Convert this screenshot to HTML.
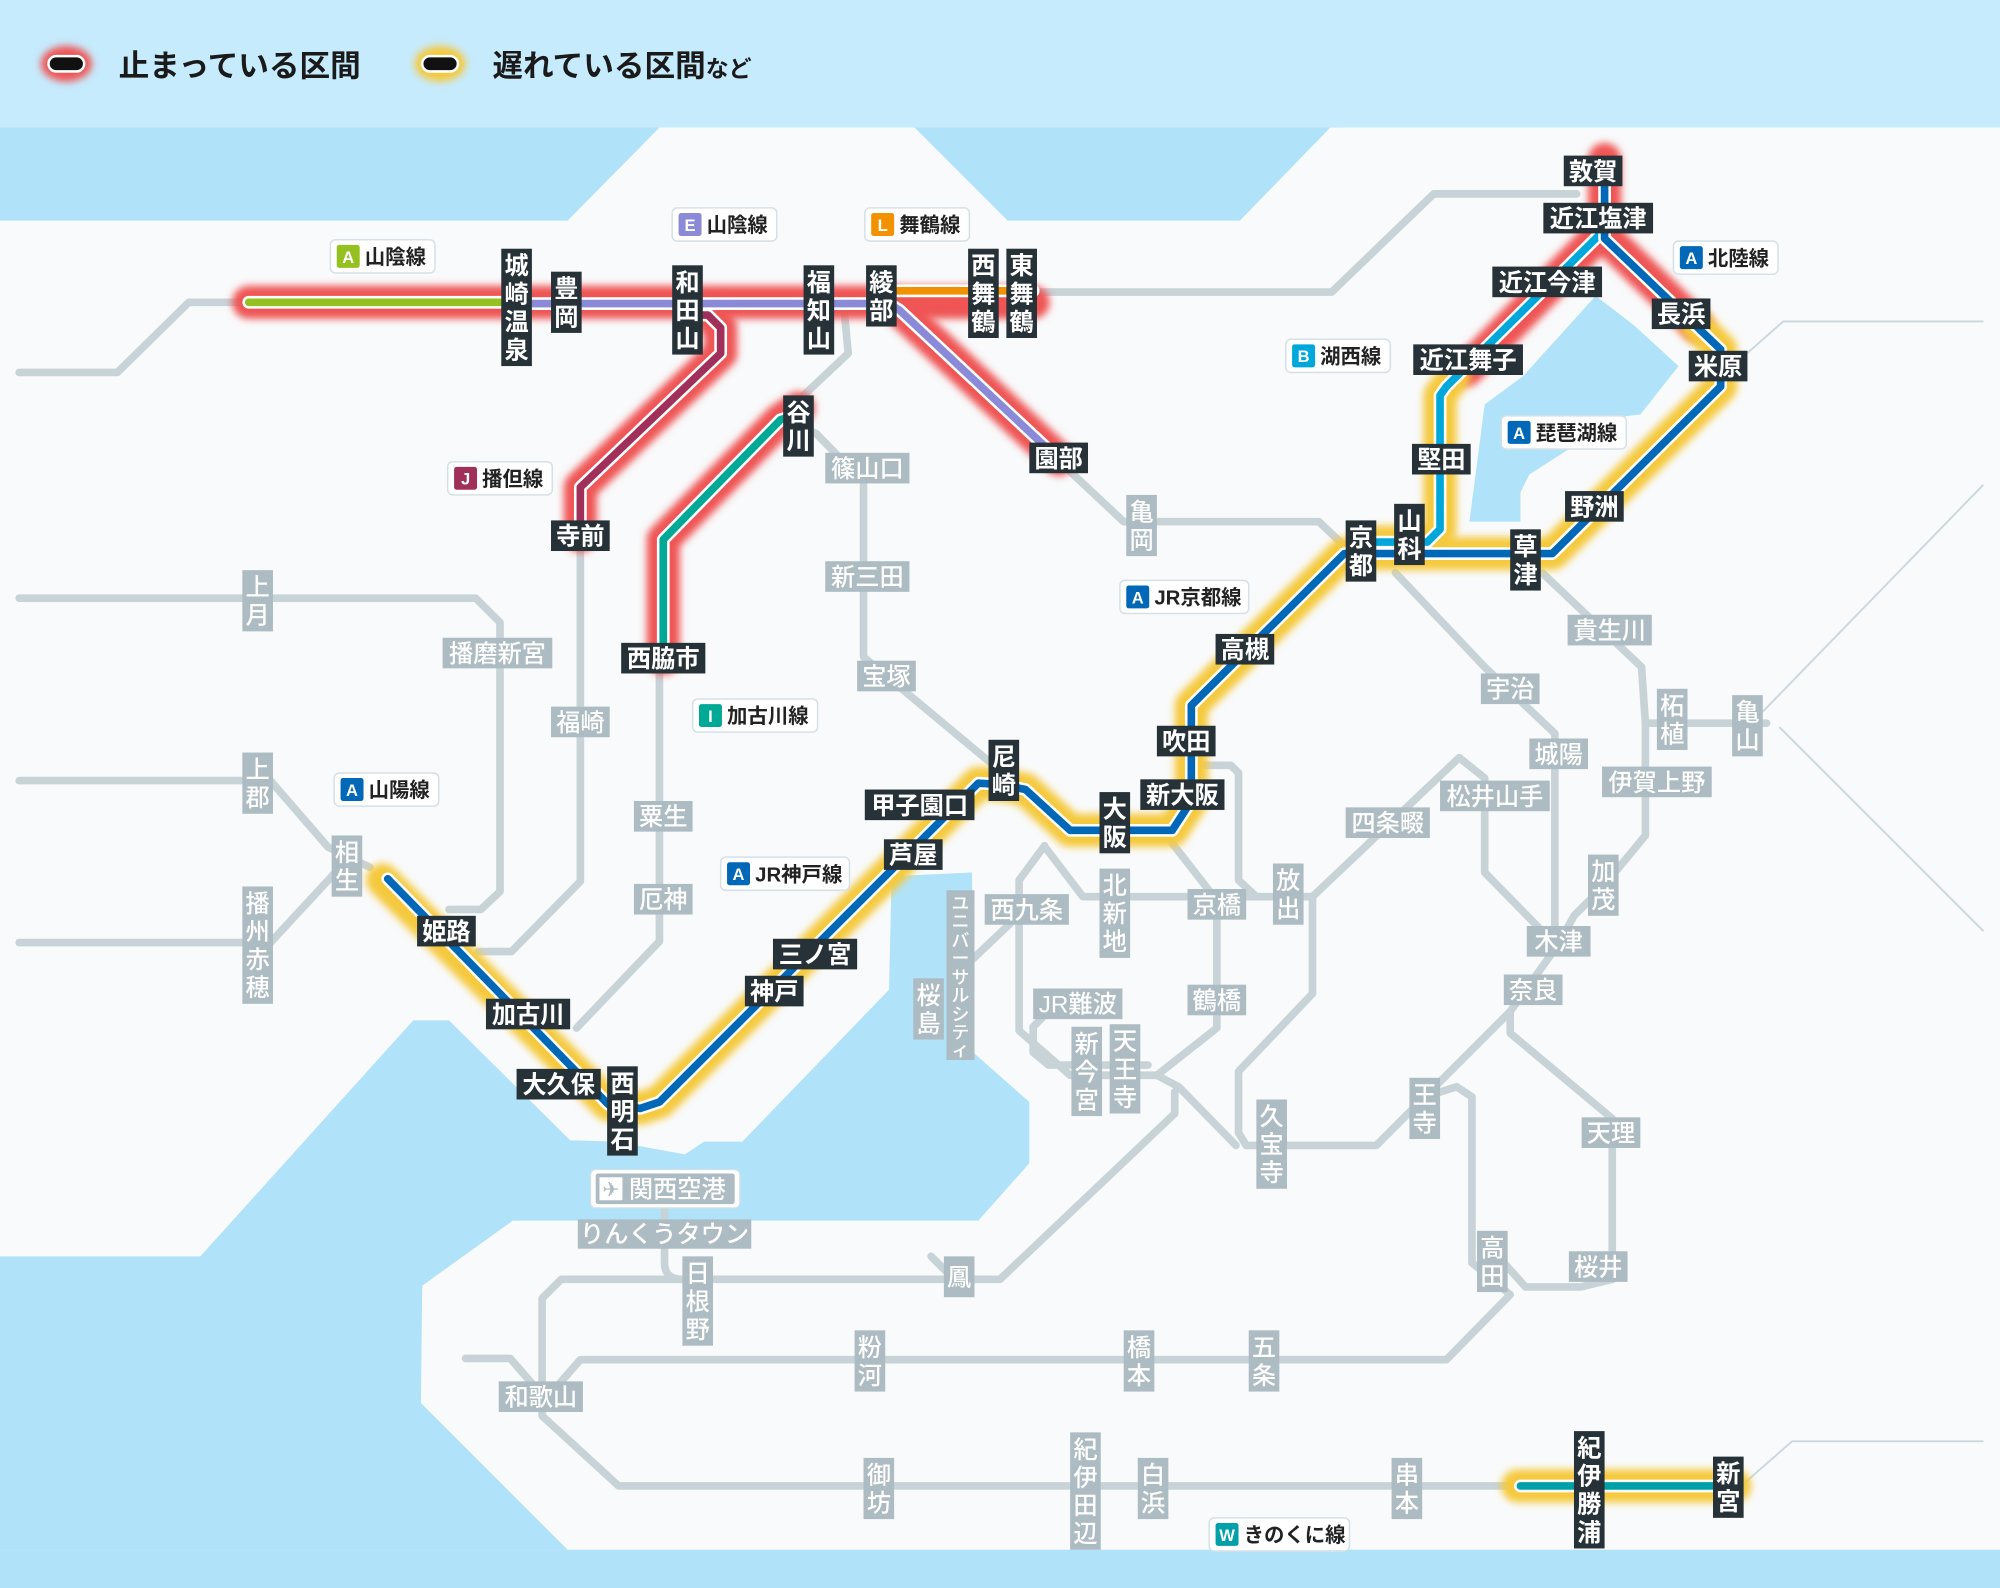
<!DOCTYPE html>
<html><head><meta charset="utf-8"><style>
html,body{margin:0;padding:0;background:#f9fafb;}
svg{display:block;}
text{font-family:"Liberation Sans","Noto Sans CJK JP",sans-serif;}
.bk{fill:#263238}.gy{fill:#adbbc2}
.wt{fill:#fff;font-size:19px;font-weight:bold;text-anchor:middle}
.gt{fill:#fff;font-size:19px;font-weight:500;text-anchor:middle}
.g{fill:none;stroke:#c8d3d8;stroke-width:6;stroke-linejoin:round;stroke-linecap:round}
.th{fill:none;stroke:#cbd7de;stroke-width:1.5}
.glr{fill:none;stroke:#ef5555;stroke-width:26;stroke-linecap:round;stroke-linejoin:round;filter:url(#bl)}
.gly{fill:none;stroke:#f5c93e;stroke-width:26;stroke-linecap:round;stroke-linejoin:round;filter:url(#bl)}
.cw{fill:none;stroke:#fff;stroke-width:10;stroke-linecap:round;stroke-linejoin:round}
.c{fill:none;stroke-width:6;stroke-linecap:round;stroke-linejoin:round}
.bd{fill:#fff;stroke:#d6e1e7;stroke-width:1.2}
.bl{fill:#fff;font-size:13px;font-weight:bold;text-anchor:middle}
.bt{fill:#222;font-size:16px;font-weight:bold}
</style></head><body>
<svg width="2000" height="1588" viewBox="0 0 1568 1245" xmlns="http://www.w3.org/2000/svg">
<defs><filter id="bl" filterUnits="userSpaceOnUse" x="0" y="0" width="1568" height="1245"><feGaussianBlur stdDeviation="3"/></filter></defs>
<rect width="1568" height="1245" fill="#f9fafb"/>
<!-- sea -->
<g fill="#b0e2f9">
<polygon points="0,100 517,100 445,173 0,173"/>
<polygon points="717,100 1043,100 972,173 790,173"/>
<polygon points="1251,232 1281,255 1316,287 1286,325 1269,327 1199,372 1192,386 1192,409 1152,409 1164,317 1194,295"/>
<polygon points="0,985 157,985 324,800 352,800 447,894 482,895 537,905 552,895 582,895 697,776 699,687 762,684 764,826 807,864 807,912 767,957 402,957 331,1008 330,1100 445,1215 0,1215"/>
<rect x="0" y="1215" width="1568" height="30"/>
</g>
<rect x="0" y="0" width="1568" height="100" fill="#c6ebfd"/>
<!-- legend -->
<ellipse cx="52" cy="50" rx="20" ry="14" fill="#ef5555" filter="url(#bl)"/>
<rect x="38" y="44" width="28" height="12" rx="6" fill="#111" stroke="#fff" stroke-width="2"/>
<text x="93" y="60" font-size="24" font-weight="bold" fill="#1a1a1a">止まっている区間</text>
<ellipse cx="345" cy="50" rx="20" ry="14" fill="#f5c93e" filter="url(#bl)"/>
<rect x="331" y="44" width="28" height="12" rx="6" fill="#111" stroke="#fff" stroke-width="2"/>
<text x="386" y="60" font-size="24" font-weight="bold" fill="#1a1a1a">遅れている区間<tspan font-size="18">など</tspan></text>
<!-- thin lines -->
<path class="th" d="M1355,290 L1398,252 H1555"/>
<path class="th" d="M1380,560 L1555,380"/>
<path class="th" d="M1395,570 L1555,730"/>
<path class="th" d="M1365,1165 L1405,1130 H1555"/>
<!-- grey lines -->
<path class="g" d="M15,292 H92 L148,237 H195"/>
<path class="g" d="M814,229 H1044 L1124,152 H1236"/>
<path class="g" d="M662,245 L665,277 L630,310"/>
<path class="g" d="M630,335 L640,340 L677,378 V515 L785,605"/>
<path class="g" d="M834,365 L881,409 H1034 L1054,428"/>
<path class="g" d="M1094,449 L1164,523 L1219,575 V738"/>
<path class="g" d="M1209,449 L1287,523 L1290,567 H1385"/>
<path class="g" d="M1290,567 V655 L1257,695 L1234,718 L1222,740"/>
<path class="g" d="M1222,740 L1184,793 L1079,898 H977 L971,888 V840 L1029,779 V703"/>
<path class="g" d="M1029,703 L1144,594 L1164,610 V684 L1214,735"/>
<path class="g" d="M820,665 L849,703 H1029"/>
<path class="g" d="M945,600 H965 L971,606 V690 L985,703"/>
<path class="g" d="M819,663 L799,690 V808 L839,843 H907 L954,806 V706 L919,661"/>
<path class="g" d="M907,843 L924,852 L969,898"/>
<path class="g" d="M921,856 V873 L784,1003 H440 L425,1018 V1090"/>
<path class="g" d="M1184,793 V810 L1264,877 V1003 L1239,1009 H1196 L1179,990"/>
<path class="g" d="M1117,860 L1142,852 L1154,860 V990 L1184,1015 L1134,1066 H455 L434,1090"/>
<path class="g" d="M365,1065 H400 L420,1088"/>
<path class="g" d="M425,1090 V1110 L485,1165 H1192"/>
<path class="g" d="M521,935 V990 Q521,1003 535,1003"/>
<path class="g" d="M730,985 L748,1003"/>
<path class="g" d="M15,469 H373 L392,488 V699 L377,713 H352"/>
<path class="g" d="M455,420 V691 L401,746 H375"/>
<path class="g" d="M517,516 V738 L452,806"/>
<path class="g" d="M15,612 H212 L257,664 L290,680"/>
<path class="g" d="M15,739 H212 L262,685"/>
<path class="g" d="M792,724 L752,762 V810"/>
<path class="g" d="M820,795 L810,805 V825 L822,835 H900"/>
<!-- glows -->
<path class="glr" d="M195,237 H810"/>
<path class="glr" d="M551,244 L565,257 L565,277 L455,382 L455,420"/>
<path class="glr" d="M626,320 L612,329 L520,423 L520,516"/>
<path class="glr" d="M700,238 L830,360"/>
<path class="glr" d="M1258,125 L1258,185 L1330,255"/>
<path class="glr" d="M1251,187 L1150,290"/>
<path class="gly" d="M1330,255 L1349,274 L1349,303 L1217,434 L1054,434 L934,553 L934,628 L919,651 L839,651 L804,619 L784,615 L767,614 L757,624 L517,864 L502,869 L477,866 L300,690"/>
<path class="gly" d="M1140,295 L1129,310 L1129,415 L1119,425 L1079,425"/>
<path class="gly" d="M1190,1165 H1360"/>
<!-- colored lines -->
<path class="cw" d="M195,237 H400"/><path class="c" stroke="#94c11f" d="M195,237 H400"/>
<path class="cw" d="M690,228 H810"/><path class="c" stroke="#f39200" d="M690,228 H810"/>
<path class="cw" d="M400,238 H697 L705,243 L830,360"/><path class="c" stroke="#8a8ad8" d="M400,238 H697 L705,243 L830,360"/>
<path class="cw" d="M540,247 H555 L565,257 L565,277 L455,382 L455,420"/><path class="c" stroke="#a0305a" d="M540,247 H555 L565,257 L565,277 L455,382 L455,420"/>
<path class="cw" d="M626,325 L612,329 L520,423 L520,512"/><path class="c" stroke="#00a896" d="M626,325 L612,329 L520,423 L520,512"/>
<path class="cw" d="M1258,180 L1251,187 L1134,303 L1129,310 L1129,415 L1119,425 L1079,425"/><path class="c" stroke="#00a7db" d="M1258,180 L1251,187 L1134,303 L1129,310 L1129,415 L1119,425 L1079,425"/>
<path class="cw" d="M1258,135 L1258,187 L1349,274 L1349,303 L1217,434 L1054,434 L934,553 L934,628 L919,651 L839,651 L804,619 L784,615 L767,614 L757,624 L517,864 L502,869 L477,866 L304,689"/><path class="c" stroke="#0068b7" d="M1258,135 L1258,187 L1349,274 L1349,303 L1217,434 L1054,434 L934,553 L934,628 L919,651 L839,651 L804,619 L784,615 L767,614 L757,624 L517,864 L502,869 L477,866 L304,689"/>
<path class="cw" d="M1192,1165 H1360"/><path class="c" stroke="#00a0a8" d="M1192,1165 H1360"/>

<!-- black horizontal labels -->
<g>
<rect class="bk" x="432" y="408" width="46" height="24"/><text class="wt" x="455" y="427">寺前</text>
<rect class="bk" x="487" y="504" width="66" height="24"/><text class="wt" x="520" y="523">西脇市</text>
<rect class="bk" x="807" y="347" width="46" height="24"/><text class="wt" x="830" y="366">園部</text>
<rect class="bk" x="1226" y="122" width="46" height="24"/><text class="wt" x="1249" y="141">敦賀</text>
<rect class="bk" x="1210" y="159" width="86" height="24"/><text class="wt" x="1253" y="178">近江塩津</text>
<rect class="bk" x="1170" y="209" width="86" height="24"/><text class="wt" x="1213" y="228">近江今津</text>
<rect class="bk" x="1295" y="234" width="46" height="24"/><text class="wt" x="1318" y="253">長浜</text>
<rect class="bk" x="1108" y="270" width="86" height="24"/><text class="wt" x="1151" y="289">近江舞子</text>
<rect class="bk" x="1324" y="275" width="46" height="24"/><text class="wt" x="1347" y="294">米原</text>
<rect class="bk" x="1107" y="348" width="46" height="24"/><text class="wt" x="1130" y="367">堅田</text>
<rect class="bk" x="1227" y="385" width="46" height="24"/><text class="wt" x="1250" y="404">野洲</text>
<rect class="bk" x="953" y="497" width="46" height="24"/><text class="wt" x="976" y="516">高槻</text>
<rect class="bk" x="907" y="569" width="46" height="24"/><text class="wt" x="930" y="588">吹田</text>
<rect class="bk" x="894" y="611" width="66" height="24"/><text class="wt" x="927" y="630">新大阪</text>
<rect class="bk" x="678" y="619" width="86" height="24"/><text class="wt" x="721" y="638">甲子園口</text>
<rect class="bk" x="693" y="658" width="46" height="24"/><text class="wt" x="716" y="677">芦屋</text>
<rect class="bk" x="606" y="736" width="66" height="24"/><text class="wt" x="639" y="755">三ノ宮</text>
<rect class="bk" x="584" y="765" width="46" height="24"/><text class="wt" x="607" y="784">神戸</text>
<rect class="bk" x="327" y="718" width="46" height="24"/><text class="wt" x="350" y="737">姫路</text>
<rect class="bk" x="381" y="783" width="66" height="24"/><text class="wt" x="414" y="802">加古川</text>
<rect class="bk" x="405" y="838" width="66" height="24"/><text class="wt" x="438" y="857">大久保</text>
</g>
<!-- black vertical labels -->
<g>
<rect class="bk" x="393" y="195" width="24" height="92"/><text class="wt" x="405 405 405 405" y="215 237 259 281">城崎温泉</text>
<rect class="bk" x="432" y="213" width="24" height="48"/><text class="wt" x="444 444" y="233 255">豊岡</text>
<rect class="bk" x="527" y="208" width="24" height="70"/><text class="wt" x="539 539 539" y="228 250 272">和田山</text>
<rect class="bk" x="630" y="208" width="24" height="70"/><text class="wt" x="642 642 642" y="228 250 272">福知山</text>
<rect class="bk" x="679" y="208" width="24" height="48"/><text class="wt" x="691 691" y="228 250">綾部</text>
<rect class="bk" x="759" y="195" width="24" height="70"/><text class="wt" x="771 771 771" y="215 237 259">西舞鶴</text>
<rect class="bk" x="789" y="195" width="24" height="70"/><text class="wt" x="801 801 801" y="215 237 259">東舞鶴</text>
<rect class="bk" x="614" y="310" width="24" height="48"/><text class="wt" x="626 626" y="330 352">谷川</text>
<rect class="bk" x="775" y="580" width="24" height="48"/><text class="wt" x="787 787" y="600 622">尼崎</text>
<rect class="bk" x="862" y="621" width="24" height="48"/><text class="wt" x="874 874" y="641 663">大阪</text>
<rect class="bk" x="1055" y="408" width="24" height="48"/><text class="wt" x="1067 1067" y="428 450">京都</text>
<rect class="bk" x="1093" y="395" width="24" height="48"/><text class="wt" x="1105 1105" y="415 437">山科</text>
<rect class="bk" x="1184" y="415" width="24" height="48"/><text class="wt" x="1196 1196" y="435 457">草津</text>
<rect class="bk" x="476" y="836" width="24" height="70"/><text class="wt" x="488 488 488" y="856 878 900">西明石</text>
<rect class="bk" x="1234" y="1122" width="24" height="92"/><text class="wt" x="1246 1246 1246 1246" y="1142 1164 1186 1208">紀伊勝浦</text>
<rect class="bk" x="1343" y="1142" width="24" height="48"/><text class="wt" x="1355 1355" y="1162 1184">新宮</text>
</g>
<!-- grey horizontal labels -->
<g>
<rect class="gy" x="647" y="355" width="66" height="24"/><text class="gt" x="680" y="374">篠山口</text>
<rect class="gy" x="647" y="440" width="66" height="24"/><text class="gt" x="680" y="459">新三田</text>
<rect class="gy" x="672" y="518" width="46" height="24"/><text class="gt" x="695" y="537">宝塚</text>
<rect class="gy" x="347" y="500" width="86" height="24"/><text class="gt" x="390" y="519">播磨新宮</text>
<rect class="gy" x="432" y="554" width="46" height="24"/><text class="gt" x="455" y="573">福崎</text>
<rect class="gy" x="497" y="628" width="46" height="24"/><text class="gt" x="520" y="647">粟生</text>
<rect class="gy" x="497" y="693" width="46" height="24"/><text class="gt" x="520" y="712">厄神</text>
<rect class="gy" x="772" y="701" width="66" height="24"/><text class="gt" x="805" y="720">西九条</text>
<rect class="gy" x="810" y="775" width="70" height="24"/><text class="gt" x="845" y="794">JR難波</text>
<rect class="gy" x="931" y="772" width="46" height="24"/><text class="gt" x="954" y="791">鶴橋</text>
<rect class="gy" x="931" y="697" width="46" height="24"/><text class="gt" x="954" y="716">京橋</text>
<rect class="gy" x="1055" y="633" width="66" height="24"/><text class="gt" x="1088" y="652">四条畷</text>
<rect class="gy" x="1129" y="612" width="86" height="24"/><text class="gt" x="1172" y="631">松井山手</text>
<rect class="gy" x="1199" y="579" width="46" height="24"/><text class="gt" x="1222" y="598">城陽</text>
<rect class="gy" x="1256" y="601" width="86" height="24"/><text class="gt" x="1299" y="620">伊賀上野</text>
<rect class="gy" x="1229" y="482" width="66" height="24"/><text class="gt" x="1262" y="501">貴生川</text>
<rect class="gy" x="1161" y="528" width="46" height="24"/><text class="gt" x="1184" y="547">宇治</text>
<rect class="gy" x="1197" y="726" width="50" height="24"/><text class="gt" x="1222" y="745">木津</text>
<rect class="gy" x="1179" y="764" width="46" height="24"/><text class="gt" x="1202" y="783">奈良</text>
<rect class="gy" x="1240" y="876" width="46" height="24"/><text class="gt" x="1263" y="895">天理</text>
<rect class="gy" x="1230" y="981" width="46" height="24"/><text class="gt" x="1253" y="1000">桜井</text>
<rect class="gy" x="453" y="956" width="136" height="23"/><text class="gt" x="521" y="974">りんくうタウン</text>
<rect class="gy" x="391" y="1083" width="66" height="24"/><text class="gt" x="424" y="1102">和歌山</text>
<rect x="463" y="917" width="117" height="30" rx="4" fill="#fff" stroke="#d6e1e7"/>
<rect x="467" y="920" width="109" height="24" rx="2" class="gy"/>
<rect x="470" y="923" width="18" height="18" fill="#fff"/><text x="479" y="938" font-size="16" fill="#adbbc2" text-anchor="middle">✈</text>
<text class="gt" x="531" y="939">関西空港</text>
</g>
<!-- grey vertical labels -->
<g>
<rect class="gy" x="190" y="447" width="24" height="48"/><text class="gt" x="202 202" y="467 489">上月</text>
<rect class="gy" x="190" y="590" width="24" height="48"/><text class="gt" x="202 202" y="610 632">上郡</text>
<rect class="gy" x="260" y="655" width="24" height="48"/><text class="gt" x="272 272" y="675 697">相生</text>
<rect class="gy" x="190" y="695" width="24" height="92"/><text class="gt" x="202 202 202 202" y="715 737 759 781">播州赤穂</text>
<rect class="gy" x="883" y="388" width="24" height="48"/><text class="gt" x="895 895" y="408 430">亀岡</text>
<rect class="gy" x="862" y="681" width="24" height="70"/><text class="gt" x="874 874 874" y="701 723 745">北新地</text>
<rect class="gy" x="742" y="698" width="22" height="133"/><text class="gt" style="font-size:14px" x="753 753 753 753 753 753 753 753 753" y="713 727 742 756 771 785 800 814 828">ユニバーサルシティ</text>
<rect class="gy" x="716" y="767" width="24" height="48"/><text class="gt" x="728 728" y="787 809">桜島</text>
<rect class="gy" x="840" y="805" width="24" height="70"/><text class="gt" x="852 852 852" y="825 847 869">新今宮</text>
<rect class="gy" x="870" y="803" width="24" height="70"/><text class="gt" x="882 882 882" y="823 845 867">天王寺</text>
<rect class="gy" x="998" y="677" width="24" height="48"/><text class="gt" x="1010 1010" y="697 719">放出</text>
<rect class="gy" x="985" y="862" width="24" height="70"/><text class="gt" x="997 997 997" y="882 904 926">久宝寺</text>
<rect class="gy" x="1105" y="845" width="24" height="48"/><text class="gt" x="1117 1117" y="865 887">王寺</text>
<rect class="gy" x="1245" y="670" width="24" height="48"/><text class="gt" x="1257 1257" y="690 712">加茂</text>
<rect class="gy" x="1299" y="540" width="24" height="48"/><text class="gt" x="1311 1311" y="560 582">柘植</text>
<rect class="gy" x="1358" y="545" width="24" height="48"/><text class="gt" x="1370 1370" y="565 587">亀山</text>
<rect class="gy" x="1158" y="965" width="24" height="48"/><text class="gt" x="1170 1170" y="985 1007">高田</text>
<rect class="gy" x="535" y="985" width="24" height="70"/><text class="gt" x="547 547 547" y="1005 1027 1049">日根野</text>
<rect class="gy" x="740" y="985" width="24" height="32"/><text class="gt" x="752" y="1008">鳳</text>
<rect class="gy" x="670" y="1043" width="24" height="48"/><text class="gt" x="682 682" y="1063 1085">粉河</text>
<rect class="gy" x="881" y="1043" width="24" height="48"/><text class="gt" x="893 893" y="1063 1085">橋本</text>
<rect class="gy" x="979" y="1043" width="24" height="48"/><text class="gt" x="991 991" y="1063 1085">五条</text>
<rect class="gy" x="677" y="1143" width="24" height="48"/><text class="gt" x="689 689" y="1163 1185">御坊</text>
<rect class="gy" x="839" y="1123" width="24" height="92"/><text class="gt" x="851 851 851 851" y="1143 1165 1187 1209">紀伊田辺</text>
<rect class="gy" x="892" y="1143" width="24" height="48"/><text class="gt" x="904 904" y="1163 1185">白浜</text>
<rect class="gy" x="1091" y="1143" width="24" height="48"/><text class="gt" x="1103 1103" y="1163 1185">串本</text>
</g>
<!-- badges -->
<g>
<rect class="bd" x="259" y="188" width="82" height="26" rx="4"/><rect x="264" y="192" width="18" height="18" rx="2" fill="#94c11f"/><text class="bl" x="273" y="206">A</text><text class="bt" x="286" y="207">山陰線</text>
<rect class="bd" x="527" y="163" width="82" height="26" rx="4"/><rect x="532" y="167" width="18" height="18" rx="2" fill="#8a8ad8"/><text class="bl" x="541" y="181">E</text><text class="bt" x="554" y="182">山陰線</text>
<rect class="bd" x="678" y="163" width="82" height="26" rx="4"/><rect x="683" y="167" width="18" height="18" rx="2" fill="#f39200"/><text class="bl" x="692" y="181">L</text><text class="bt" x="705" y="182">舞鶴線</text>
<rect class="bd" x="351" y="362" width="82" height="26" rx="4"/><rect x="356" y="366" width="18" height="18" rx="2" fill="#a0305a"/><text class="bl" x="365" y="380">J</text><text class="bt" x="378" y="381">播但線</text>
<rect class="bd" x="1312" y="189" width="82" height="26" rx="4"/><rect x="1317" y="193" width="18" height="18" rx="2" fill="#0068b7"/><text class="bl" x="1326" y="207">A</text><text class="bt" x="1339" y="208">北陸線</text>
<rect class="bd" x="1008" y="266" width="82" height="26" rx="4"/><rect x="1013" y="270" width="18" height="18" rx="2" fill="#00a7db"/><text class="bl" x="1022" y="284">B</text><text class="bt" x="1035" y="285">湖西線</text>
<rect class="bd" x="1177" y="326" width="98" height="26" rx="4"/><rect x="1182" y="330" width="18" height="18" rx="2" fill="#0068b7"/><text class="bl" x="1191" y="344">A</text><text class="bt" x="1204" y="345">琵琶湖線</text>
<rect class="bd" x="878" y="455" width="101" height="26" rx="4"/><rect x="883" y="459" width="18" height="18" rx="2" fill="#0068b7"/><text class="bl" x="892" y="473">A</text><text class="bt" x="905" y="474">JR京都線</text>
<rect class="bd" x="543" y="548" width="98" height="26" rx="4"/><rect x="548" y="552" width="18" height="18" rx="2" fill="#00a896"/><text class="bl" x="557" y="566">I</text><text class="bt" x="570" y="567">加古川線</text>
<rect class="bd" x="262" y="606" width="82" height="26" rx="4"/><rect x="267" y="610" width="18" height="18" rx="2" fill="#0068b7"/><text class="bl" x="276" y="624">A</text><text class="bt" x="289" y="625">山陽線</text>
<rect class="bd" x="565" y="672" width="101" height="26" rx="4"/><rect x="570" y="676" width="18" height="18" rx="2" fill="#0068b7"/><text class="bl" x="579" y="690">A</text><text class="bt" x="592" y="691">JR神戸線</text>
<rect class="bd" x="948" y="1190" width="110" height="26" rx="4"/><rect x="953" y="1194" width="18" height="18" rx="2" fill="#00a0a8"/><text class="bl" x="962" y="1208">W</text><text class="bt" x="975" y="1209">きのくに線</text>
</g>
</svg>
</body></html>
